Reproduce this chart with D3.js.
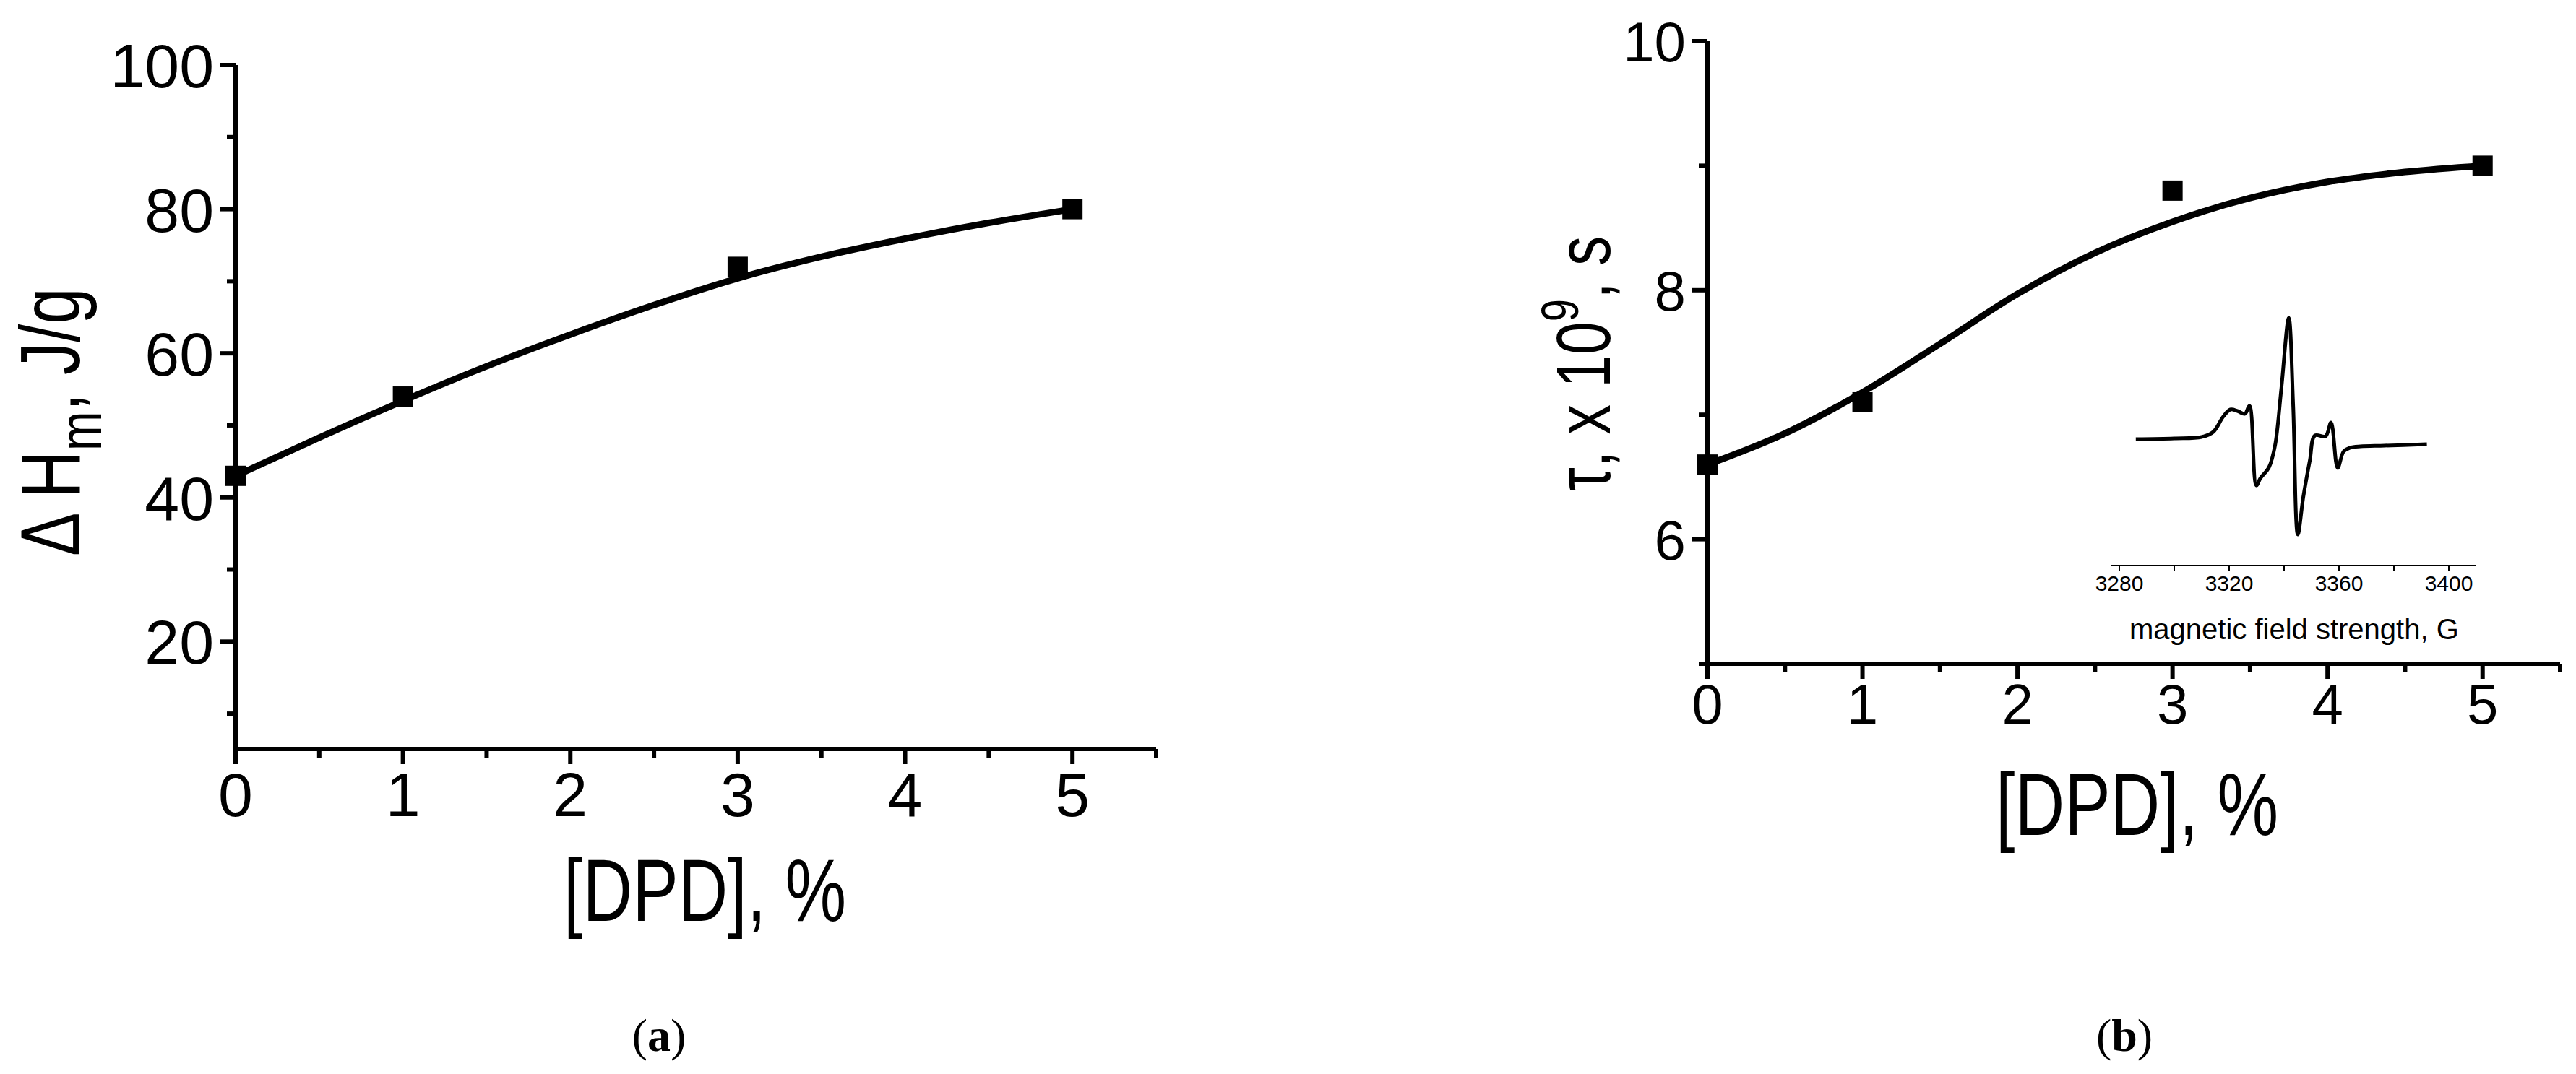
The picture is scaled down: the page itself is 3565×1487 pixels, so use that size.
<!DOCTYPE html>
<html><head><meta charset="utf-8">
<script src="https://cdn.jsdelivr.net/npm/d3@7"></script>
<style>body{margin:0;background:#fff}svg{display:block}text{font-family:"Liberation Sans",Arial,sans-serif;fill:#000}</style>
</head><body>
<svg id="c" width="3565" height="1487"></svg>
<script>
// ---- data ----
const aX = [0, 1, 3, 5];
const aY = [43, 54, 72, 80];
const aFitX = [0, 0.5, 1, 1.5, 2, 2.5, 3, 3.5, 4, 4.5, 5];
const aFitY = [43, 48.3, 53.4, 58.2, 62.6, 66.7, 70.4, 73.4, 75.9, 78.1, 80];
const bX = [0, 1, 3, 5];
const bY = [6.6, 7.1, 8.8, 9.0];
const bFitX = [0, 0.5, 1, 1.5, 2, 2.5, 3, 3.5, 4, 4.5, 5];
const bFitY = [6.6, 6.85, 7.18, 7.57, 7.97, 8.3, 8.55, 8.74, 8.87, 8.95, 9.0];
const aYTicks = [20, 40, 60, 80, 100];
const bYTicks = [6, 8, 10];
const xTicks = [0, 1, 2, 3, 4, 5];
const epsG = [3286, 3300, 3310, 3314.2, 3317.8, 3320.4, 3323, 3325.7, 3327.4, 3329.9, 3331.4, 3334.5, 3336.7, 3339, 3341.7, 3343.3, 3345.0, 3347, 3349.4, 3351.2, 3355.1, 3357.1, 3359.5, 3361.7, 3364, 3367.8, 3376.6, 3392];
const epsI = [0, 1, 3, 10, 31, 41, 39, 35, 46, -64, -54, -39, -9, 70, 168, 48, -132, -80, -29, 5, 4, 23, -40, -17, -12, -10, -9, -7];
const epsTicks = [3280, 3320, 3360, 3400];

const svg = d3.select("#c");
const SW = 6;

function panel(o) {
  const x = d3.scaleLinear().domain([0, 5.5]).range([o.x0, o.x1]);
  const y = d3.scaleLinear().domain(o.yd).range([o.yb, o.yt]);
  const g = svg.append("g");
  g.append("line").attr("x1", o.x0 - o.over).attr("x2", o.x1).attr("y1", o.yb).attr("y2", o.yb).attr("stroke", "#000").attr("stroke-width", SW);
  d3.range(0, 5.51, 0.5).forEach(v => {
    const maj = Math.abs(v - Math.round(v)) < 1e-6;
    g.append("line").attr("x1", x(v)).attr("x2", x(v)).attr("y1", o.yb).attr("y2", o.yb + (maj ? 21 : 12)).attr("stroke", "#000").attr("stroke-width", SW);
  });
  xTicks.forEach(v => g.append("text").attr("x", x(v)).attr("y", o.xlb).attr("text-anchor", "middle").attr("font-size", o.fs).text(v));
  g.append("line").attr("x1", o.x0).attr("x2", o.x0).attr("y1", o.yt).attr("y2", o.yb + 21).attr("stroke", "#000").attr("stroke-width", SW);
  d3.range(o.minor0, o.yd[1] + 0.001, o.minorStep).forEach(v => {
    g.append("line").attr("x1", o.x0).attr("x2", o.x0 - 12).attr("y1", y(v)).attr("y2", y(v)).attr("stroke", "#000").attr("stroke-width", SW);
  });
  o.yTicks.forEach(v => {
    g.append("line").attr("x1", o.x0).attr("x2", o.x0 - 21).attr("y1", y(v)).attr("y2", y(v)).attr("stroke", "#000").attr("stroke-width", SW);
    g.append("text").attr("x", o.x0 - 30).attr("y", y(v) + o.fs * 0.36).attr("text-anchor", "end").attr("font-size", o.fs).text(v);
  });
  const line = d3.line().x(d => x(d[0])).y(d => y(d[1])).curve(d3.curveMonotoneX);
  g.append("path").attr("d", line(o.fx.map((v, i) => [v, o.fy[i]]))).attr("fill", "none").attr("stroke", "#000").attr("stroke-width", 9);
  o.px.forEach((v, i) => g.append("rect").attr("x", x(v) - 14).attr("y", y(o.py[i]) - 14).attr("width", 28).attr("height", 28).attr("fill", "#000"));
  return { x, y };
}

panel({ x0: 326, x1: 1600, yb: 1037, yt: 90, yd: [5.1, 100], over: 0, fs: 86, xlb: 1130, yTicks: aYTicks, minor0: 10, minorStep: 20,
  px: aX, py: aY, fx: aFitX, fy: aFitY });
panel({ x0: 2363, x1: 3543, yb: 919, yt: 57, yd: [5, 10], over: 11, fs: 78, xlb: 1002, yTicks: bYTicks, minor0: 5, minorStep: 2,
  px: bX, py: bY, fx: bFitX, fy: bFitY });

function ctext(x, y, fs, rot, build) {
  const g = svg.append("g").attr("transform", `translate(${x},${y}) rotate(${rot}) scale(0.78,1)`);
  build(g.append("text").attr("font-size", fs));
}
ctext(780, 1275, 122, 0, t => t.text("[DPD], %"));
ctext(2762, 1156, 122, 0, t => t.text("[DPD], %"));
ctext(110, 770, 116, -90, t => {
  t.append("tspan").text("\u0394 H");
  t.append("tspan").attr("font-size", 84).attr("dy", 30).text("m");
  t.append("tspan").attr("dy", -30).text(", J/g");
});
ctext(2228, 680, 106, -90, t => {
  t.append("tspan").text("\u03c4, x 10");
  t.append("tspan").attr("font-size", 72).attr("dy", -44).text("9");
  t.append("tspan").attr("dy", 44).text(", s");
});

// inset EPR spectrum
const gx = d3.scaleLinear().domain([3280, 3400]).range([2933, 3389]);
const gy = d3.scaleLinear().domain([-132, 168]).range([740, 440]);
svg.append("line").attr("x1", gx(3277)).attr("x2", gx(3410)).attr("y1", 783).attr("y2", 783).attr("stroke", "#000").attr("stroke-width", 2);
d3.range(3280, 3401, 20).forEach(v => svg.append("line").attr("x1", gx(v)).attr("x2", gx(v)).attr("y1", 783).attr("y2", 790).attr("stroke", "#000").attr("stroke-width", 2));
epsTicks.forEach(v => svg.append("text").attr("x", gx(v)).attr("y", 818).attr("text-anchor", "middle").attr("font-size", 30).text(v));
svg.append("text").attr("x", 2947).attr("y", 885).attr("font-size", 40).text("magnetic field strength, G");
svg.append("path").attr("d", d3.line().x(d => gx(d[0])).y(d => gy(d[1])).curve(d3.curveCatmullRom)(epsG.map((v, i) => [v, epsI[i]])))
  .attr("fill", "none").attr("stroke", "#000").attr("stroke-width", 5);

[[912, "a"], [2940, "b"]].forEach(([x, l]) => {
  const t = svg.append("text").attr("x", x).attr("y", 1455).attr("text-anchor", "middle").attr("font-size", 64).style("font-family", "'Liberation Serif','Times New Roman',serif");
  t.append("tspan").text("(");
  t.append("tspan").attr("font-weight", "bold").text(l);
  t.append("tspan").text(")");
});
</script>
</body></html>
